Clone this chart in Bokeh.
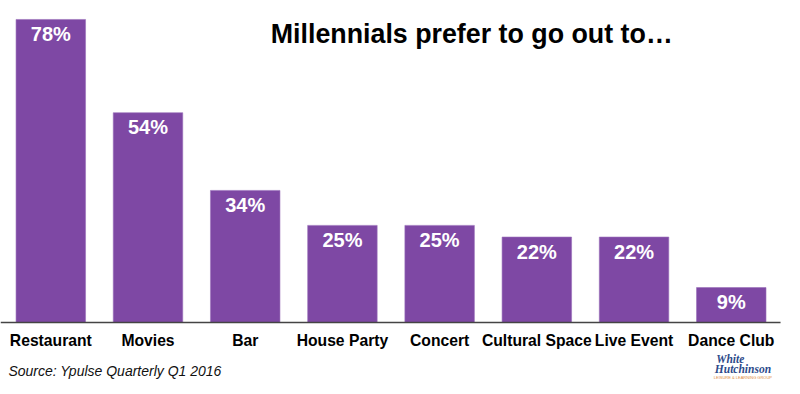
from bokeh.plotting import figure
from bokeh.models import Range1d, Label, ColumnDataSource
from bokeh.core.properties import value
from bokeh.embed import file_html
from bokeh.resources import INLINE

categories = ["Restaurant", "Movies", "Bar", "House Party", "Concert",
              "Cultural Space", "Live Event", "Dance Club"]
values = [78, 54, 34, 25, 25, 22, 22, 9]
value_labels = ["78%", "54%", "34%", "25%", "25%", "22%", "22%", "9%"]

xs = list(range(len(categories)))
src = ColumnDataSource(dict(x=xs, top=values, lab=value_labels,
                            cat=categories, zero=[0] * len(xs)))

# frame covers the whole canvas; 1% = 3.885 px, bar pitch = 97.21 px
p = figure(width=792, height=386, output_backend="svg", toolbar_location=None,
           x_range=Range1d(-0.5174, 7.630), y_range=Range1d(-16.47, 82.88),
           min_border=0)
p.outline_line_color = None
p.grid.visible = False
p.axis.visible = False
p.background_fill_color = "white"
p.border_fill_color = "white"

p.vbar(x="x", top="top", bottom=0, width=0.715, source=src,
       fill_color="#7e48a4", line_color="#9a70bb", line_width=0.6)

# baseline (axis line)
p.segment(x0=[-0.5174], y0=[0], x1=[7.507], y1=[0],
          line_color="#444444", line_width=1.5)

p.text(x="x", y="top", text="lab", source=src, text_align="center",
       text_baseline="middle", y_offset=14.5, text_color="white",
       text_font=value("Liberation Sans"), text_font_style="bold",
       text_font_size="20px")

p.text(x="x", y="zero", text="cat", source=src, text_align="center",
       text_baseline="middle", y_offset=18, text_color="black",
       text_font=value("Liberation Sans"), text_font_style="bold",
       text_font_size="15.7px")

p.add_layout(Label(x=4.33, y=74.2, text="Millennials prefer to go out to…",
                   text_align="center", text_baseline="middle",
                   text_font="Liberation Sans", text_font_style="bold",
                   text_font_size="26.8px", text_color="black"))

p.add_layout(Label(x=-0.436, y=-12.5, text="Source: Ypulse Quarterly Q1 2016",
                   text_align="left", text_baseline="middle",
                   text_font="Liberation Sans", text_font_style="italic",
                   text_font_size="14px", text_color="#111111"))

# small logo
p.add_layout(Label(x=6.99, y=-9.5, text="White",
                   text_align="center", text_baseline="middle",
                   text_font="Liberation Serif", text_font_style="bold italic",
                   text_font_size="11.5px", text_color="#2d4a8a"))
p.add_layout(Label(x=7.12, y=-11.9, text="Hutchinson",
                   text_align="center", text_baseline="middle",
                   text_font="Liberation Serif", text_font_style="bold italic",
                   text_font_size="11.5px", text_color="#2d4a8a"))
p.add_layout(Label(x=7.12, y=-14.2, text="LEISURE & LEARNING GROUP",
                   text_align="center", text_baseline="middle",
                   text_font="Liberation Sans",
                   text_font_size="4px", text_color="#e08a3c"))

open("out.html", "w").write(file_html(p, INLINE))
